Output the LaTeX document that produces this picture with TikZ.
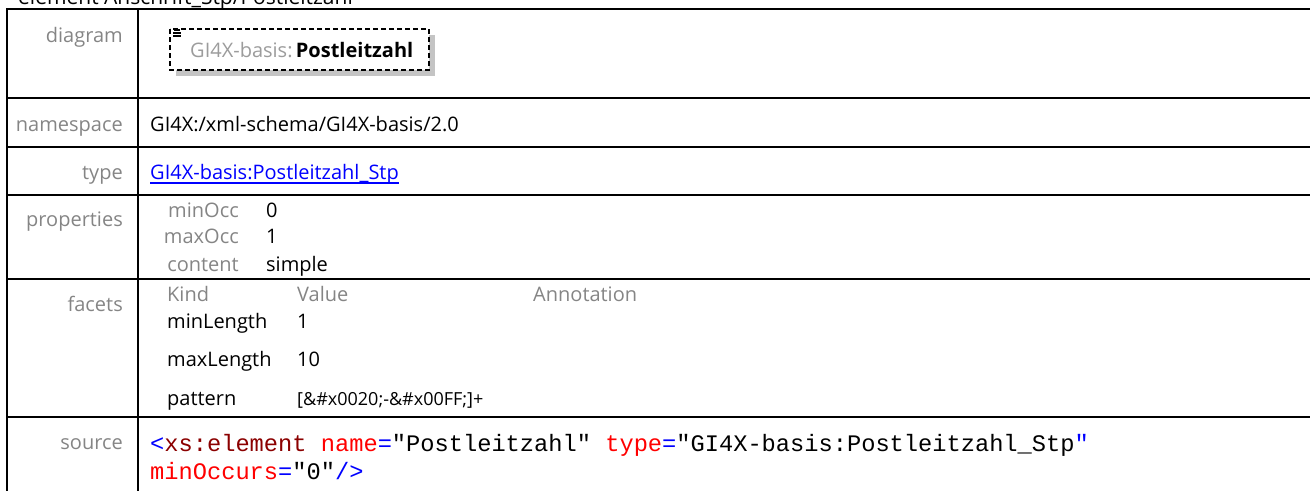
\documentclass[tikz,border=0pt]{standalone}
\usepackage{fontspec}
\setmainfont{Open Sans}
\setmonofont{Liberation Mono}
\usetikzlibrary{shadows}
\definecolor{labelgray}{HTML}{858585}
\definecolor{nsgray}{HTML}{9C9C9C}
\definecolor{shadowgray}{HTML}{C4C4C4}
\definecolor{linkblue}{HTML}{0000FF}
\definecolor{tagred}{HTML}{8B0000}
\definecolor{attrred}{HTML}{FF0000}
\begin{document}
\begin{tikzpicture}[
        x=1pt, y=-1pt,
        every node/.style={inner sep=0pt, anchor=base west, font=\fontsize{20}{24}\selectfont},
        rowlabel/.style={anchor=base east, text=labelgray},
        rule/.style={line width=2pt},
        elembox/.style={draw, dashed, dash pattern=on 5pt off 3pt, line width=1.5pt, fill=white,
            drop shadow={shadow xshift=6pt, shadow yshift=-6pt, fill=shadowgray, opacity=1}},
        code/.style={font=\ttfamily\fontsize{23.7}{28}\selectfont}
    ]

    \useasboundingbox (0,0) rectangle (1310,491);
    \begin{scope}
        \clip (0,0) rectangle (1310,491);
        \node[font=\fontsize{21}{25}\selectfont] (title) at (18,4) {element Anschrift\_Stp/Postleitzahl};
    \end{scope}

    % table rules
    \foreach \y in {9, 98, 147, 195, 279, 417} {
        \draw[rule] (6,\y) -- (1310,\y);
    }
    \draw[rule] (7,8) -- (7,491);
    \draw[rule] (138,8) -- (138,491);

    % row labels
    \foreach \nm/\txt/\y in {lbdiag/diagram/42, lbns/namespace/131, lbtype/type/179,
                            lbprop/properties/226, lbfac/facets/311, lbsrc/source/449} {
        \node[rowlabel] (\nm) at (123,\y) {\txt};
    }

    % diagram
    \path[elembox] (170,29) rectangle (429,70);
    \draw[line width=1.2pt] (174,30) -- (180,30) (173,33) -- (181,33) (173,36) -- (181,36);
    \node (elem) at (190,57) {\textcolor{nsgray}{GI4X-basis:}\,\textbf{Postleitzahl}};

    \node (nsval) at (150,131) {GI4X:/xml-schema/GI4X-basis/2.0};

    \node[text=linkblue] (typeval) at (150,179) {GI4X-basis:Postleitzahl\_Stp};
    \draw[linkblue, line width=1.3pt] ([yshift=-4pt]typeval.base west) -- ([yshift=-4pt]typeval.base east);

    % properties
    \foreach \nm/\k/\v/\y in {occmin/minOcc/0/217, occmax/maxOcc/1/243, cont/content/simple/271} {
        \node[rowlabel] (\nm) at (239,\y) {\k};
        \node (\nm v) at (266,\y) {\v};
    }

    % facets
    \node[text=labelgray] (hkind) at (167,301) {Kind};
    \node[text=labelgray] (hval) at (297,301) {Value};
    \node[text=labelgray] (hann) at (533,301) {Annotation};
    \foreach \nm/\k/\v/\y in {fmin/minLength/1/328, fmax/maxLength/10/366} {
        \node (\nm) at (167,\y) {\k};
        \node (\nm v) at (297,\y) {\v};
    }
    \node (fpat) at (167,405) {pattern};
    \node[font=\fontsize{18}{22}\selectfont] (fpatv) at (297,405) {[\&\#x0020;-\&\#x00FF;]+};

    % source
    \node[code] (src1) at (150,451) {\textcolor{linkblue}{<}\textcolor{tagred}{xs:element} \textcolor{attrred}{name}\textcolor{linkblue}{=}"Postleitzahl" \textcolor{attrred}{type}\textcolor{linkblue}{=}"GI4X-basis:Postleitzahl\_Stp\textcolor{linkblue}{"}};
    \node[code] (src2) at (150,479) {\textcolor{attrred}{minOccurs}\textcolor{linkblue}{=}"0"\textcolor{linkblue}{/>}};
\end{tikzpicture}
\end{document}
